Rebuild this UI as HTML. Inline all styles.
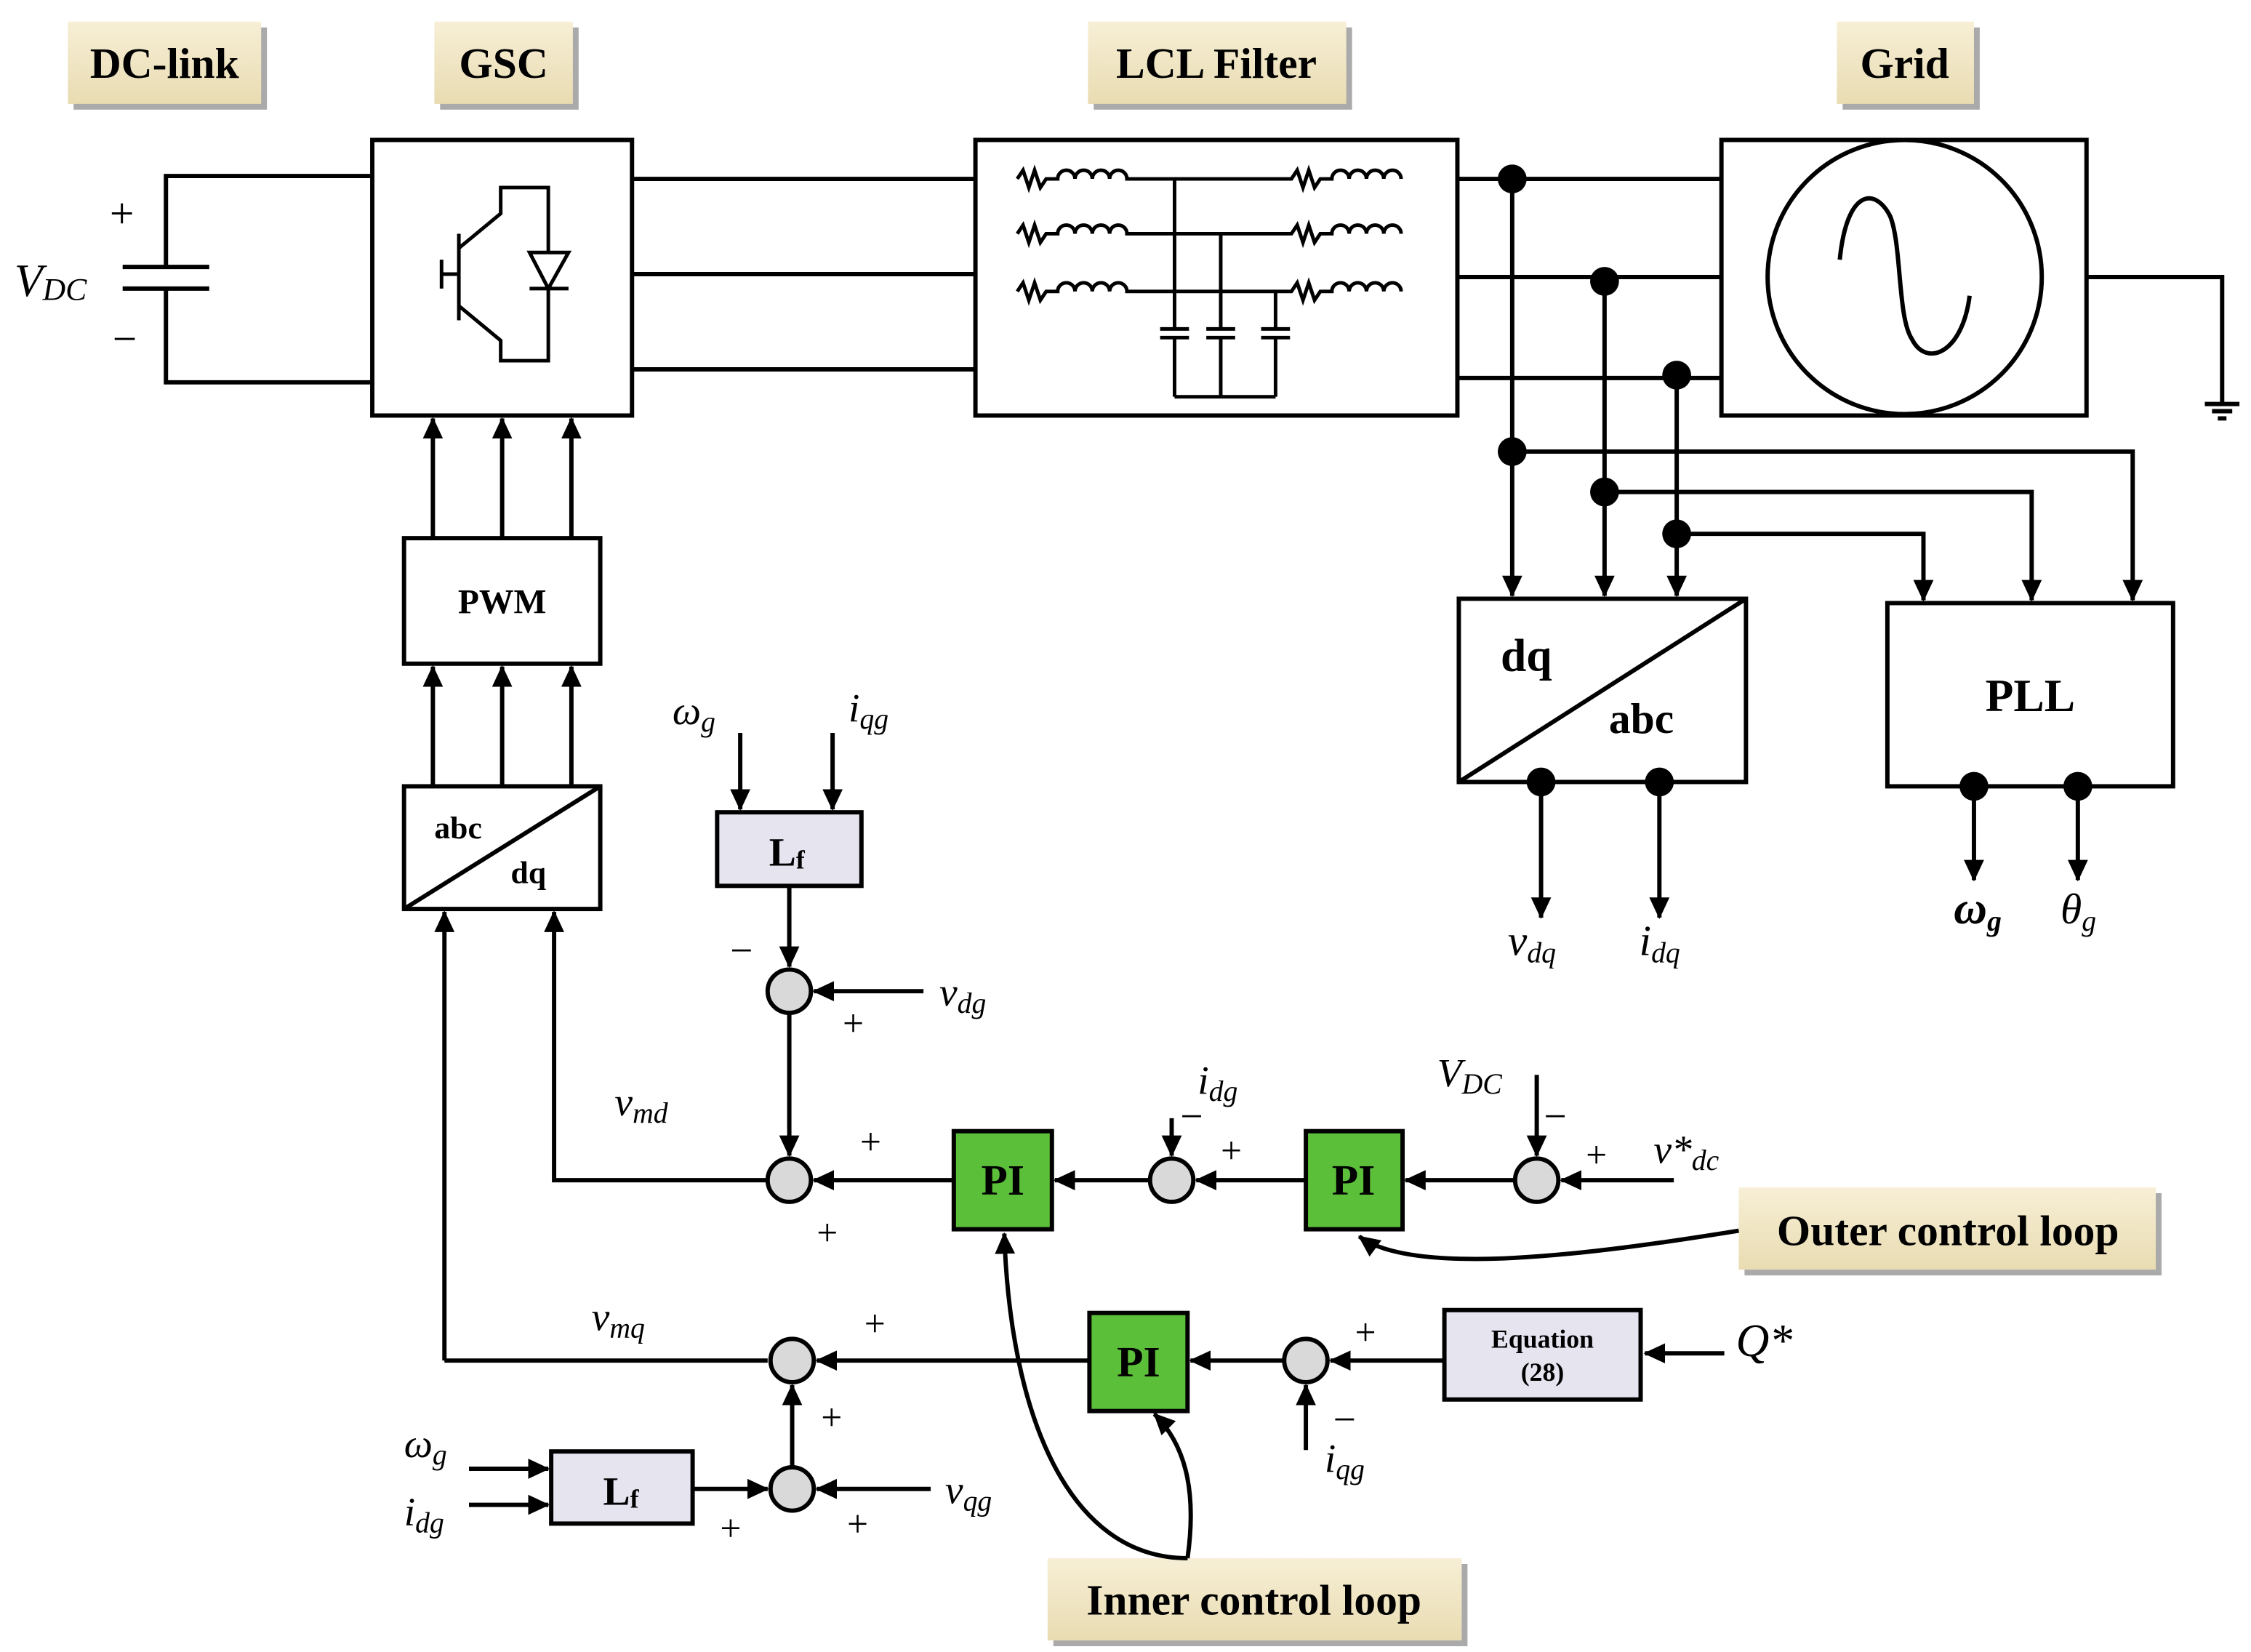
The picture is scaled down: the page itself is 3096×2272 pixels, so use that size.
<!DOCTYPE html>
<html><head><meta charset="utf-8"><style>
html,body{margin:0;padding:0;background:#fff;}
svg{display:block;}
text{font-family:"Liberation Serif",serif;}
.b{font-weight:bold;}
.i{font-style:italic;}
</style></head><body>
<svg width="3096" height="2272" viewBox="0 0 1560 1145" preserveAspectRatio="none" xmlns="http://www.w3.org/2000/svg">
<defs>
<marker id="a" markerWidth="8" markerHeight="8" refX="7" refY="4" orient="auto" markerUnits="userSpaceOnUse">
<path d="M0,0 L8,4 L0,8 Z" fill="#000"/></marker>
<marker id="A" markerWidth="16" markerHeight="16" refX="14" refY="8" orient="auto" markerUnits="userSpaceOnUse">
<path d="M0,1 L15,8 L0,15 Z" fill="#000"/></marker>
<linearGradient id="bg" x1="0" y1="0" x2="0" y2="1"><stop offset="0" stop-color="#f7efd6"/><stop offset="1" stop-color="#e9dcb2"/></linearGradient>
</defs>
<g fill="none" stroke="#000" stroke-width="3">
<!-- label boxes -->
<g stroke="none">
<rect x="51" y="19" width="134" height="57" fill="#aaa"/><rect x="47" y="15" width="134" height="57" fill="url(#bg)"/>
<rect x="305" y="19" width="96" height="57" fill="#aaa"/><rect x="301" y="15" width="96" height="57" fill="url(#bg)"/>
<rect x="758" y="19" width="179" height="57" fill="#aaa"/><rect x="754" y="15" width="179" height="57" fill="url(#bg)"/>
<rect x="1277" y="19" width="95" height="57" fill="#aaa"/><rect x="1273" y="15" width="95" height="57" fill="url(#bg)"/>
<rect x="1209" y="827" width="289" height="57" fill="#aaa"/><rect x="1205" y="823" width="289" height="57" fill="url(#bg)"/>
<rect x="730" y="1084" width="287" height="57" fill="#aaa"/><rect x="726" y="1080" width="287" height="57" fill="url(#bg)"/>
</g>
<!-- capacitor -->
<path d="M258,122 H115 V185 M85,185 H145 M85,200 H145 M115,200 V265 H258"/>
<!-- GSC -->
<rect x="258" y="97" width="180" height="191"/>
<path d="M318,162 V222 M306,180 V200 M306,190 H318 M318,172 L347,148 V130 H380 V175 M318,212 L347,236 V250 H380 V200 M367,200 H394 M367,175 H394 L380,200 Z" stroke-width="2.5"/>
<path d="M438,124 H676 M438,190 H676 M438,256 H676"/>
<!-- LCL -->
<rect x="676" y="97" width="334" height="191"/>
<g stroke-width="2.5">
<path d="M705,124 l4,-6 l4,12 l4,-12 l4,12 l4,-6 h8 a6,6 0 0 1 12,0 a6,6 0 0 1 12,0 a6,6 0 0 1 12,0 a6,6 0 0 1 12,0 H895 l4,-6 l4,12 l4,-12 l4,12 l4,-6 h8 a6,6 0 0 1 12,0 a6,6 0 0 1 12,0 a6,6 0 0 1 12,0 a6,6 0 0 1 12,0"/>
<path d="M705,162 l4,-6 l4,12 l4,-12 l4,12 l4,-6 h8 a6,6 0 0 1 12,0 a6,6 0 0 1 12,0 a6,6 0 0 1 12,0 a6,6 0 0 1 12,0 H895 l4,-6 l4,12 l4,-12 l4,12 l4,-6 h8 a6,6 0 0 1 12,0 a6,6 0 0 1 12,0 a6,6 0 0 1 12,0 a6,6 0 0 1 12,0"/>
<path d="M705,202 l4,-6 l4,12 l4,-12 l4,12 l4,-6 h8 a6,6 0 0 1 12,0 a6,6 0 0 1 12,0 a6,6 0 0 1 12,0 a6,6 0 0 1 12,0 H895 l4,-6 l4,12 l4,-12 l4,12 l4,-6 h8 a6,6 0 0 1 12,0 a6,6 0 0 1 12,0 a6,6 0 0 1 12,0 a6,6 0 0 1 12,0"/>
<path d="M814,124 V228 M846,162 V228 M884,202 V228 M804,228 H824 M804,234 H824 M836,228 H856 M836,234 H856 M874,228 H894 M874,234 H894 M814,234 V275 M846,234 V275 M884,234 V275 M814,275 H884"/>
</g>
<!-- grid lines -->
<path d="M1010,124 H1193 M1010,192 H1193 M1010,262 H1193"/>
<rect x="1193" y="97" width="253" height="191"/>
<circle cx="1320" cy="192" r="95"/>
<path d="M1275,180 C1280,130 1300,130 1310,150 C1318,170 1315,220 1325,235 C1335,255 1360,245 1365,205"/>
<path d="M1446,192 H1540 V280 M1528,280 H1552 M1533,285 H1547 M1537,290 H1543"/>
<!-- taps -->
<path d="M1048,124 V413" marker-end="url(#A)"/>
<path d="M1112,195 V413" marker-end="url(#A)"/>
<path d="M1162,260 V413" marker-end="url(#A)"/>
<path d="M1048,313 H1478 V416" marker-end="url(#A)"/>
<path d="M1112,341 H1408 V416" marker-end="url(#A)"/>
<path d="M1162,370 H1333 V416" marker-end="url(#A)"/>
<!-- dq/abc -->
<rect x="1011" y="415" width="199" height="127"/>
<path d="M1011,542 L1210,415"/>
<path d="M1068,542 V636" marker-end="url(#A)"/>
<path d="M1150,542 V636" marker-end="url(#A)"/>
<rect x="1308" y="418" width="198" height="127"/>
<path d="M1368,545 V610" marker-end="url(#A)"/>
<path d="M1440,545 V610" marker-end="url(#A)"/>
<!-- PWM chain -->
<path d="M300,373 V290" marker-end="url(#A)"/>
<path d="M348,373 V290" marker-end="url(#A)"/>
<path d="M396,373 V290" marker-end="url(#A)"/>
<rect x="280" y="373" width="136" height="87"/>
<path d="M300,545 V462" marker-end="url(#A)"/>
<path d="M348,545 V462" marker-end="url(#A)"/>
<path d="M396,545 V462" marker-end="url(#A)"/>
<rect x="280" y="545" width="136" height="85"/>
<path d="M280,630 L416,545"/>
<path d="M308,943 V632" marker-end="url(#A)"/>
<path d="M532,818 H384 V632" marker-end="url(#A)"/>
<!-- upper Lf -->
<path d="M513,508 V561" marker-end="url(#A)"/>
<path d="M577,508 V561" marker-end="url(#A)"/>
<rect x="497" y="563" width="100" height="51" fill="#e6e4ef"/>
<path d="M547,614 V670" marker-end="url(#A)"/>
<path d="M640,687 H564" marker-end="url(#A)"/>
<path d="M547,702 V801" marker-end="url(#A)"/>
<path d="M661,818 H564" marker-end="url(#A)"/>
<rect x="661" y="784" width="68" height="68" fill="#5cbf3a"/>
<path d="M797,818 H731" marker-end="url(#A)"/>
<path d="M812,775 V801" marker-end="url(#A)"/>
<path d="M905,818 H829" marker-end="url(#A)"/>
<rect x="905" y="784" width="67" height="68" fill="#5cbf3a"/>
<path d="M1050,818 H974" marker-end="url(#A)"/>
<path d="M1065,745 V801" marker-end="url(#A)"/>
<path d="M1160,818 H1082" marker-end="url(#A)"/>
<path d="M1205,853 C1100,870 980,885 942,857" marker-end="url(#A)"/>
<!-- lower -->
<path d="M308,943 H532"/>
<path d="M755,943 H566" marker-end="url(#A)"/>
<rect x="755" y="910" width="68" height="68" fill="#5cbf3a"/>
<path d="M890,943 H825" marker-end="url(#A)"/>
<rect x="1001" y="908" width="136" height="62" fill="#e6e4ef"/>
<path d="M1001,943 H922" marker-end="url(#A)"/>
<path d="M905,1005 V960" marker-end="url(#A)"/>
<path d="M1195,938 H1140" marker-end="url(#A)"/>
<path d="M325,1018 H380" marker-end="url(#A)"/>
<path d="M325,1043 H380" marker-end="url(#A)"/>
<rect x="382" y="1006" width="98" height="50" fill="#e6e4ef"/>
<path d="M480,1032 H532" marker-end="url(#A)"/>
<path d="M645,1032 H566" marker-end="url(#A)"/>
<path d="M549,1017 V960" marker-end="url(#A)"/>
<path d="M823,1080 C830,1030 820,1000 800,980" marker-end="url(#A)"/>
<path d="M823,1080 C740,1080 700,980 696,855" marker-end="url(#A)"/>
<!-- sum circles -->
<g fill="#d9d9d9"><circle cx="547" cy="687" r="15"/><circle cx="547" cy="818" r="15"/><circle cx="812" cy="818" r="15"/><circle cx="1065" cy="818" r="15"/><circle cx="549" cy="943" r="15"/><circle cx="905" cy="943" r="15"/><circle cx="549" cy="1032" r="15"/></g>
<!-- dots -->
<g fill="#000" stroke="none"><circle cx="1048" cy="124" r="10"/><circle cx="1112" cy="195" r="10"/><circle cx="1162" cy="260" r="10"/><circle cx="1048" cy="313" r="10"/><circle cx="1112" cy="341" r="10"/><circle cx="1162" cy="370" r="10"/><circle cx="1068" cy="542" r="10"/><circle cx="1150" cy="542" r="10"/><circle cx="1368" cy="545" r="10"/><circle cx="1440" cy="545" r="10"/></g>
</g>
<g fill="#000">
<text x="114" y="54" font-size="30" class="b" text-anchor="middle">DC-link</text>
<text x="349" y="54" font-size="30" class="b" text-anchor="middle">GSC</text>
<text x="843" y="54" font-size="30" class="b" text-anchor="middle">LCL Filter</text>
<text x="1320" y="54" font-size="30" class="b" text-anchor="middle">Grid</text>
<text x="1350" y="863" font-size="30" class="b" text-anchor="middle">Outer control loop</text>
<text x="869" y="1119" font-size="30" class="b" text-anchor="middle">Inner control loop</text>
<text x="76" y="158" font-size="30">+</text><text x="78" y="245" font-size="30">−</text>
<text x="10" y="205" font-size="32" class="i">V<tspan font-size="22" dy="3">DC</tspan></text>
<text x="348" y="425" font-size="24" class="b" text-anchor="middle">PWM</text>
<text x="301" y="581" font-size="22" class="b">abc</text><text x="354" y="612" font-size="22" class="b">dq</text>
<text x="1040" y="465" font-size="32" class="b">dq</text><text x="1115" y="508" font-size="30" class="b">abc</text>
<text x="1407" y="493" font-size="32" class="b" text-anchor="middle">PLL</text>
<text x="1045" y="662" font-size="30" class="i">v<tspan font-size="20" dy="5">dq</tspan></text>
<text x="1136" y="662" font-size="30" class="i">i<tspan font-size="20" dy="5">dq</tspan></text>
<text x="1354" y="640" font-size="32" class="i b">ω<tspan font-size="20" dy="5">g</tspan></text>
<text x="1428" y="640" font-size="30" class="i">θ<tspan font-size="20" dy="5">g</tspan></text>
<text x="466" y="502" font-size="28" class="i">ω<tspan font-size="20" dy="5">g</tspan></text>
<text x="588" y="500" font-size="28" class="i">i<tspan font-size="20" dy="5">qg</tspan></text>
<text x="533" y="600" font-size="28" class="b">L<tspan font-size="18" dy="2">f</tspan></text>
<text x="418" y="1043" font-size="28" class="b">L<tspan font-size="18" dy="2">f</tspan></text>
<text x="506" y="668" font-size="28">−</text><text x="584" y="718" font-size="26">+</text>
<text x="651" y="697" font-size="28" class="i">v<tspan font-size="20" dy="5">dg</tspan></text>
<text x="426" y="773" font-size="28" class="i">v<tspan font-size="20" dy="5">md</tspan></text>
<text x="596" y="800" font-size="26">+</text><text x="566" y="863" font-size="26">+</text>
<text x="695" y="828" font-size="30" class="b" text-anchor="middle">PI</text>
<text x="938" y="828" font-size="30" class="b" text-anchor="middle">PI</text>
<text x="789" y="954" font-size="30" class="b" text-anchor="middle">PI</text>
<text x="830" y="758" font-size="28" class="i">i<tspan font-size="20" dy="5">dg</tspan></text>
<text x="818" y="783" font-size="28">−</text><text x="846" y="806" font-size="26">+</text>
<text x="996" y="753" font-size="28" class="i">V<tspan font-size="20" dy="5">DC</tspan></text>
<text x="1070" y="783" font-size="28">−</text><text x="1099" y="809" font-size="26">+</text>
<text x="1146" y="806" font-size="28" class="i">v*<tspan font-size="20" dy="5">dc</tspan></text>
<text x="410" y="922" font-size="28" class="i">v<tspan font-size="20" dy="5">mq</tspan></text>
<text x="599" y="926" font-size="26">+</text><text x="569" y="991" font-size="26">+</text>
<text x="939" y="932" font-size="26">+</text><text x="924" y="993" font-size="28">−</text>
<text x="918" y="1020" font-size="28" class="i">i<tspan font-size="20" dy="5">qg</tspan></text>
<text x="1069" y="934" font-size="18" class="b" text-anchor="middle">Equation</text>
<text x="1069" y="957" font-size="18" class="b" text-anchor="middle">(28)</text>
<text x="1203" y="940" font-size="32" class="i">Q*</text>
<text x="280" y="1010" font-size="28" class="i">ω<tspan font-size="20" dy="5">g</tspan></text>
<text x="280" y="1057" font-size="28" class="i">i<tspan font-size="20" dy="5">dg</tspan></text>
<text x="499" y="1068" font-size="26">+</text><text x="587" y="1065" font-size="26">+</text>
<text x="655" y="1042" font-size="28" class="i">v<tspan font-size="20" dy="5">qg</tspan></text>
</g>
</svg>
</body></html>
